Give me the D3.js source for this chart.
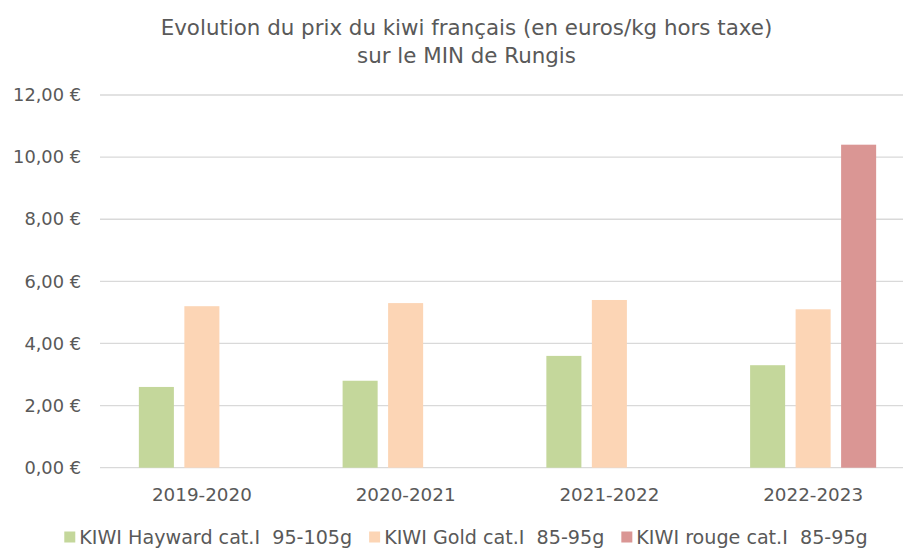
<!DOCTYPE html>
<html>
<head>
<meta charset="utf-8">
<script src="https://cdn.jsdelivr.net/npm/d3@7"></script>
<style>
  html, body { margin: 0; padding: 0; background: #fff; }
  svg { display: block; }
  text { font-family: "DejaVu Sans", sans-serif; fill: #595959; }
</style>
</head>
<body>
<svg id="chart" width="903" height="550"></svg>
<script>
const titleLines = ["Evolution du prix du kiwi français (en euros/kg hors taxe)", "sur le MIN de Rungis"];
const categories = ["2019-2020", "2020-2021", "2021-2022", "2022-2023"];
const seriesNames = ["KIWI Hayward cat.I  95-105g", "KIWI Gold cat.I  85-95g", "KIWI rouge cat.I  85-95g"];
const hayward = [2.6, 2.8, 3.6, 3.3];
const gold = [5.2, 5.3, 5.4, 5.1];
const rouge = [null, null, null, 10.4];
const yTicks = [0, 2, 4, 6, 8, 10, 12];
const colors = ["#c4d79b", "#fcd5b5", "#da9694"];

const seriesValues = [hayward, gold, rouge];

const svg = d3.select("#chart");
const W = 903, H = 550;
const plotLeft = 100, plotRight = 915, plotTop = 95, plotBottom = 467.7;

// scale a text selection's font size so a reference node reaches a target width
function fitFont(sel, refNode, target, base) {
  sel.attr("font-size", base);
  const w = refNode.getComputedTextLength();
  sel.attr("font-size", base * target / w);
}

const x0 = d3.scaleBand().domain(categories).range([plotLeft, plotRight]).padding(0);
const x1 = d3.scaleBand().domain(d3.range(seriesNames.length))
  .range([0, x0.bandwidth()]).paddingInner(0.23).paddingOuter(0.854);
const y = d3.scaleLinear().domain([0, 12]).range([plotBottom, plotTop]);

const fmt = v => d3.format(".2f")(v).replace(".", ",") + " €";

// gridlines
svg.append("g").selectAll("line").data(yTicks).join("line")
  .attr("x1", plotLeft).attr("x2", W)
  .attr("y1", d => y(d)).attr("y2", d => y(d))
  .attr("stroke", "#d9d9d9").attr("stroke-width", 1.3);

// y axis labels
const yAxis = d3.axisLeft(y).tickValues(yTicks).tickFormat(fmt).tickSize(0).tickPadding(0);
const yg = svg.append("g").attr("transform", `translate(81,0)`).call(yAxis);
yg.select(".domain").remove();
const yTexts = yg.selectAll("text").attr("fill", "#595959")
  .style("font-family", "'DejaVu Sans', sans-serif");
fitFont(yTexts, yTexts.nodes()[yTexts.size() - 1], 68, 17);

// x axis labels
const xAxis = d3.axisBottom(x0).tickSize(0).tickPadding(0);
const xg = svg.append("g").attr("transform", `translate(0,${plotBottom + 20})`).call(xAxis);
xg.select(".domain").remove();
const xTexts = xg.selectAll("text").attr("fill", "#595959")
  .style("font-family", "'DejaVu Sans', sans-serif");
fitFont(xTexts, xTexts.node(), 100, 17);

// bars
const groups = svg.append("g").selectAll("g").data(categories).join("g")
  .attr("transform", d => `translate(${x0(d)},0)`);
groups.selectAll("rect")
  .data((c, ci) => seriesValues.map((vals, si) => ({ si, v: vals[ci] })).filter(d => d.v != null))
  .join("rect")
  .attr("x", d => x1(d.si))
  .attr("width", x1.bandwidth())
  .attr("y", d => y(d.v))
  .attr("height", d => y(0) - y(d.v))
  .attr("fill", d => colors[d.si]);

// title
const tTexts = svg.append("g").selectAll("text").data(titleLines).join("text")
  .attr("x", 466.5).attr("y", (d, i) => 35 + i * 28)
  .attr("text-anchor", "middle")
  .text(d => d);
fitFont(tTexts, tTexts.node(), 612, 17);

// legend
const legend = svg.append("g");
const items = legend.selectAll("g").data(seriesNames).join("g");
items.append("rect").attr("width", 11).attr("height", 11).attr("y", -5.5)
  .attr("fill", (d, i) => colors[i]);
const lTexts = items.append("text").attr("x", 15).attr("dy", "0.35em")
  .attr("xml:space", "preserve").style("white-space", "pre")
  .text(d => d);
fitFont(lTexts, lTexts.node(), 273, 17);
let xpos = 0;
const positions = [];
items.each(function () {
  const w = d3.select(this).select("text").node().getComputedTextLength();
  positions.push(xpos);
  xpos += 15 + w + 17;
});
const totalW = xpos - 17;
const startX = 466 - totalW / 2;
items.attr("transform", (d, i) => `translate(${startX + positions[i]},537)`);
</script>
</body>
</html>
